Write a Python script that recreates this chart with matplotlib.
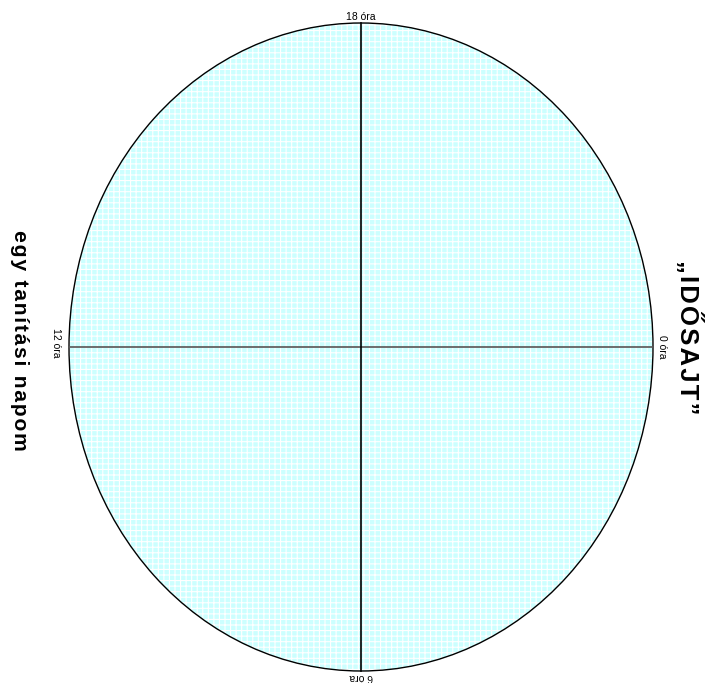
import matplotlib.pyplot as plt
from matplotlib.patches import Ellipse

plt.rcParams['font.family'] = ['Liberation Sans', 'DejaVu Sans']
plt.rcParams['hatch.linewidth'] = 0.8

# clock labels around the ellipse
hour_labels = ['18 óra', '6 óra', '12 óra', '0 óra']
left_title = 'egy tanítási napom'
right_title = '„IDŐSAJT”'


def spaced(s):
    # small letter spacing with hair spaces
    return '\u200a'.join(s)


W, H = 714, 683
fig = plt.figure(figsize=(W / 100, H / 100), dpi=100)
ax = fig.add_axes([0, 0, 1, 1])
ax.set_xlim(0, W)
ax.set_ylim(H, 0)
ax.axis('off')

cx, cy = 361, 347
rx, ry = 292, 324

# light cyan fill with a fine white grid pattern
ax.add_patch(Ellipse((cx, cy), 2 * rx, 2 * ry, facecolor='#ccffff', edgecolor='none'))
ax.add_patch(Ellipse((cx, cy), 2 * rx, 2 * ry, facecolor='none', edgecolor='white',
                     hatch='+++', lw=0))
ax.add_patch(Ellipse((cx, cy), 2 * rx, 2 * ry, facecolor='none', edgecolor='black', lw=1))

# cross lines
ax.plot([cx - rx, cx + rx], [cy, cy], color='#555555', lw=1.2)
ax.plot([cx, cx], [cy - ry, cy + ry], color='black', lw=1.2)

# hour labels
ax.text(cx, 17, hour_labels[0], ha='center', va='center', fontsize=7.5)
ax.text(cx, 677, hour_labels[1], ha='center', va='center', fontsize=7.5, rotation=180)
ax.text(56, cy - 4, hour_labels[2], ha='center', va='center', fontsize=7.5, rotation=-90)
ax.text(662, cy, hour_labels[3], ha='center', va='center', fontsize=7.5, rotation=-90)

# side titles
ax.text(19, 340, spaced(left_title), ha='center', va='center', fontsize=15.2,
        fontweight='bold', rotation=-90)
ax.text(689, 337, spaced(right_title), ha='center', va='center', fontsize=18.5,
        fontweight='bold', rotation=-90)

fig.savefig('out.png', dpi=100)
